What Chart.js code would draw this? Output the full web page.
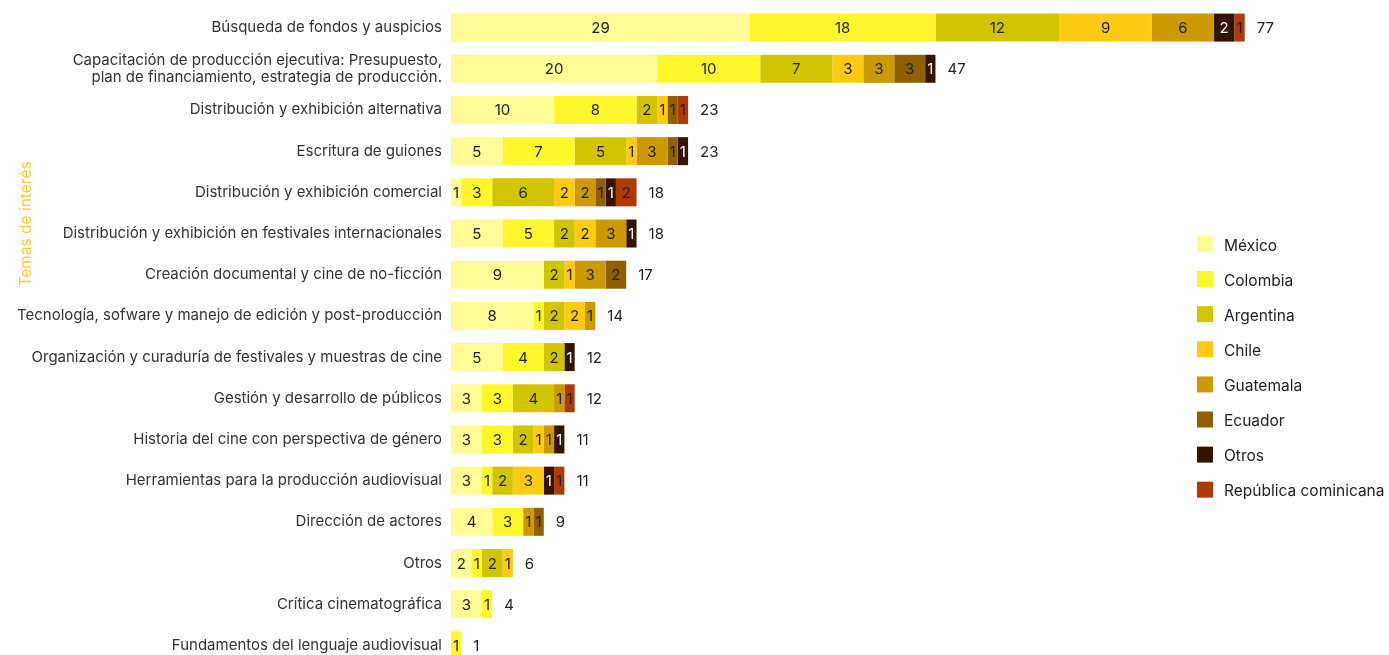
<!DOCTYPE html>
<html>
<head>
<meta charset="utf-8">
<script src="https://cdn.jsdelivr.net/npm/chart.js@4"></script>
<style>
  html, body { margin: 0; padding: 0; background: #fff; overflow: hidden; }
  #wrap { position: relative; width: 1389px; height: 670px; }
</style>
</head>
<body>
<div id="wrap"><canvas id="temasChart"></canvas></div>
<script>
const categories = [
  'Búsqueda de fondos y auspicios',
  ['Capacitación de producción ejecutiva: Presupuesto,', 'plan de financiamiento, estrategia de producción.'],
  'Distribución y exhibición alternativa',
  'Escritura de guiones',
  'Distribución y exhibición comercial',
  'Distribución y exhibición en festivales internacionales',
  'Creación documental y cine de no-ficción',
  'Tecnología, sofware y manejo de edición y post-producción',
  'Organización y curaduría de festivales y muestras de cine',
  'Gestión y desarrollo de públicos',
  'Historia del cine con perspectiva de género',
  'Herramientas para la producción audiovisual',
  'Dirección de actores',
  'Otros',
  'Crítica cinematográfica',
  'Fundamentos del lenguaje audiovisual'
];

const mexico        = [29, 20, 10, 5, 1, 5, 9, 8, 5, 3, 3, 3, 4, 2, 3, 0];
const colombia      = [18, 10, 8, 7, 3, 5, 0, 1, 4, 3, 3, 1, 3, 1, 1, 1];
const argentina     = [12, 7, 2, 5, 6, 2, 2, 2, 2, 4, 2, 2, 0, 2, 0, 0];
const chile         = [9, 3, 1, 1, 2, 2, 1, 2, 0, 0, 1, 3, 0, 1, 0, 0];
const guatemala     = [6, 3, 0, 3, 2, 3, 3, 1, 0, 1, 1, 0, 1, 0, 0, 0];
const ecuador       = [0, 3, 1, 1, 1, 0, 2, 0, 0, 0, 0, 0, 1, 0, 0, 0];
const otros         = [2, 1, 0, 1, 1, 1, 0, 0, 1, 0, 1, 1, 0, 0, 0, 0];
const repDominicana = [1, 0, 1, 0, 2, 0, 0, 0, 0, 1, 0, 1, 0, 0, 0, 0];

const seriesNames = ['México', 'Colombia', 'Argentina', 'Chile', 'Guatemala', 'Ecuador', 'Otros', 'República cominicana'];
const seriesData = [mexico, colombia, argentina, chile, guatemala, ecuador, otros, repDominicana];
const seriesColors = ['#fdfc96', '#fff72b', '#d2c400', '#fccb12', '#cc9900', '#8f5f00', '#341400', '#b03a05'];
const darkSeries = ['Otros'];

const totals = categories.map((c, i) => seriesData.reduce((s, arr) => s + arr[i], 0));

const FONT = 'Inter, "Noto Sans", sans-serif';
Chart.defaults.font.family = FONT;
Chart.defaults.font.size = 15;
Chart.defaults.color = '#333';

// numbers inside the segments + totals at the end of each bar
const valueLabels = {
  id: 'valueLabels',
  afterDatasetsDraw(chart) {
    const ctx = chart.ctx;
    ctx.save();
    ctx.font = '15px ' + FONT;
    ctx.textBaseline = 'middle';
    ctx.textAlign = 'center';
    chart.data.datasets.forEach((ds, di) => {
      const meta = chart.getDatasetMeta(di);
      ctx.fillStyle = darkSeries.includes(ds.label) ? '#fff' : '#222';
      meta.data.forEach((bar, i) => {
        const v = ds.data[i];
        if (!v) return;
        ctx.fillText(String(v), (bar.x + bar.base) / 2, bar.y + 1);
      });
    });
    const xs = chart.scales.x;
    const ys = chart.scales.y;
    ctx.textAlign = 'left';
    ctx.fillStyle = '#222';
    totals.forEach((t, i) => {
      ctx.fillText(String(t), xs.getPixelForValue(t) + 12, ys.getPixelForValue(i) + 1);
    });
    ctx.restore();
  }
};

// legend on the right and the rotated axis title
const sideLegend = {
  id: 'sideLegend',
  afterDraw(chart) {
    const ctx = chart.ctx;
    ctx.save();
    ctx.font = '15.5px ' + FONT;
    ctx.textBaseline = 'middle';
    ctx.textAlign = 'left';
    seriesNames.forEach((name, i) => {
      const y = 236 + i * 35.1;
      ctx.fillStyle = seriesColors[i];
      ctx.fillRect(1197, y, 16, 16);
      ctx.fillStyle = '#222';
      ctx.fillText(name, 1224, y + 10);
    });
    ctx.translate(26, 224);
    ctx.rotate(-Math.PI / 2);
    ctx.textAlign = 'center';
    ctx.fillStyle = '#fcc93a';
    ctx.fillText('Temas de interés', 0, 0);
    ctx.restore();
  }
};

new Chart(document.getElementById('temasChart'), {
  type: 'bar',
  data: {
    labels: categories,
    datasets: seriesNames.map((name, i) => ({
      label: name,
      data: seriesData[i],
      backgroundColor: seriesColors[i],
      borderWidth: 0,
      categoryPercentage: 1,
      barPercentage: 0.68
    }))
  },
  options: {
    indexAxis: 'y',
    responsive: true,
    maintainAspectRatio: false,
    animation: false,
    events: [],
    layout: { padding: { top: 7, bottom: 4, left: 0, right: 0 } },
    plugins: {
      legend: { display: false },
      tooltip: { enabled: false }
    },
    scales: {
      x: {
        stacked: true,
        display: false,
        min: 0,
        max: 91
      },
      y: {
        stacked: true,
        grid: { display: false, drawTicks: false },
        border: { display: false },
        ticks: {
          padding: 9,
          color: '#333',
          font: { size: 15, lineHeight: 1.15 }
        },
        afterFit(scale) {
          scale.width = 451;
          scale.paddingTop = 0;
          scale.paddingBottom = 0;
        }
      }
    }
  },
  plugins: [valueLabels, sideLegend]
});
</script>
</body>
</html>
